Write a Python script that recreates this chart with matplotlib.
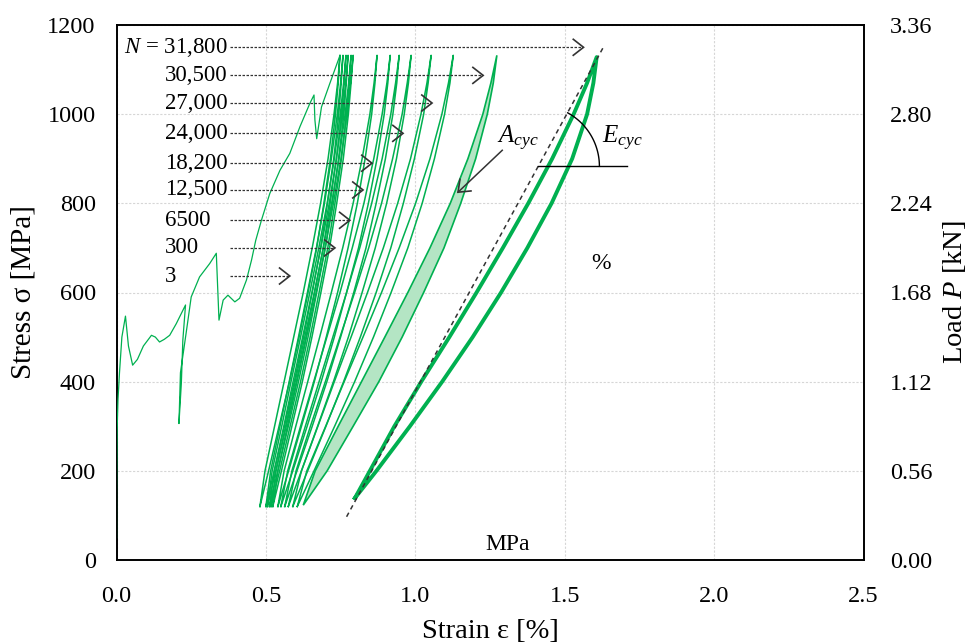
import numpy as np
import matplotlib
matplotlib.use('Agg')
import matplotlib.pyplot as plt

plt.rcParams['font.family'] = ['Liberation Serif', 'DejaVu Serif']
plt.rcParams['mathtext.fontset'] = 'custom'
plt.rcParams['mathtext.rm'] = 'Liberation Serif'
plt.rcParams['mathtext.it'] = 'Liberation Serif:italic'

GREEN = '#00b050'
FILL = '#b4e5c4'

# ---------------- data ----------------
# first (monotonic) loading curve
init_strain = [0.000, 0.000, 0.002, 0.005, 0.010, 0.018, 0.030, 0.040, 0.054, 0.070,
               0.090, 0.117, 0.130, 0.144, 0.160, 0.178, 0.200, 0.231, 0.222, 0.217,
               0.209, 0.214, 0.236, 0.250, 0.278, 0.312, 0.334, 0.343, 0.357, 0.373,
               0.396, 0.412, 0.435, 0.452, 0.466, 0.485, 0.513, 0.547, 0.580, 0.614,
               0.647, 0.661, 0.664, 0.670, 0.686, 0.714, 0.748]
init_stress = [50, 150, 290, 360, 420, 500, 547, 480, 437, 450,
               480, 504, 500, 489, 495, 504, 530, 572, 493, 396,
               306, 420, 523, 590, 635, 665, 688, 538, 583, 594,
               579, 587, 628, 673, 717, 762, 822, 874, 912, 972,
               1024, 1043, 987, 945, 1016, 1069, 1132]

# thin hysteresis loops (strain of both branches at given stress levels)
loop_stress = [120, 200, 300, 400, 500, 600, 700, 800, 900, 1000, 1070, 1132]
loops_left = [
    [0.480, 0.497, 0.529, 0.561, 0.593, 0.625, 0.655, 0.683, 0.708, 0.728, 0.740, 0.748],
    [0.500, 0.516, 0.547, 0.578, 0.609, 0.639, 0.669, 0.696, 0.719, 0.739, 0.750, 0.758],
    [0.505, 0.521, 0.553, 0.584, 0.616, 0.647, 0.677, 0.705, 0.729, 0.749, 0.760, 0.768],
    [0.512, 0.528, 0.560, 0.591, 0.623, 0.654, 0.684, 0.712, 0.736, 0.756, 0.767, 0.775],
    [0.517, 0.534, 0.566, 0.598, 0.630, 0.662, 0.692, 0.720, 0.745, 0.765, 0.777, 0.785],
    [0.523, 0.540, 0.572, 0.604, 0.636, 0.668, 0.698, 0.726, 0.751, 0.771, 0.783, 0.792],
    [0.540, 0.561, 0.600, 0.640, 0.680, 0.719, 0.757, 0.792, 0.822, 0.848, 0.862, 0.872],
    [0.550, 0.573, 0.616, 0.660, 0.704, 0.748, 0.789, 0.828, 0.861, 0.889, 0.905, 0.916],
    [0.563, 0.587, 0.632, 0.678, 0.724, 0.770, 0.814, 0.854, 0.889, 0.918, 0.934, 0.946],
    [0.575, 0.601, 0.649, 0.699, 0.748, 0.797, 0.844, 0.887, 0.924, 0.956, 0.973, 0.986],
    [0.590, 0.619, 0.674, 0.729, 0.785, 0.840, 0.893, 0.941, 0.984, 1.019, 1.039, 1.053],
    [0.605, 0.637, 0.700, 0.762, 0.825, 0.887, 0.946, 1.001, 1.049, 1.089, 1.111, 1.127],
]
loops_right = [
    [0.480, 0.509, 0.544, 0.579, 0.611, 0.641, 0.670, 0.694, 0.716, 0.733, 0.742, 0.748],
    [0.500, 0.528, 0.562, 0.595, 0.626, 0.655, 0.683, 0.706, 0.727, 0.744, 0.752, 0.758],
    [0.505, 0.533, 0.568, 0.602, 0.634, 0.663, 0.692, 0.715, 0.736, 0.754, 0.762, 0.768],
    [0.512, 0.540, 0.575, 0.609, 0.641, 0.670, 0.699, 0.722, 0.743, 0.761, 0.769, 0.775],
    [0.517, 0.546, 0.581, 0.616, 0.648, 0.678, 0.707, 0.731, 0.753, 0.770, 0.779, 0.785],
    [0.523, 0.552, 0.587, 0.622, 0.654, 0.684, 0.713, 0.737, 0.759, 0.776, 0.785, 0.792],
    [0.540, 0.576, 0.619, 0.662, 0.702, 0.740, 0.775, 0.806, 0.832, 0.854, 0.865, 0.872],
    [0.550, 0.590, 0.638, 0.685, 0.729, 0.770, 0.810, 0.843, 0.872, 0.896, 0.908, 0.916],
    [0.563, 0.604, 0.655, 0.704, 0.750, 0.794, 0.835, 0.869, 0.900, 0.925, 0.938, 0.946],
    [0.575, 0.619, 0.673, 0.726, 0.776, 0.822, 0.866, 0.904, 0.937, 0.963, 0.977, 0.986],
    [0.590, 0.640, 0.701, 0.760, 0.816, 0.869, 0.918, 0.960, 0.997, 1.028, 1.043, 1.053],
    [0.605, 0.661, 0.730, 0.797, 0.860, 0.919, 0.975, 1.023, 1.064, 1.098, 1.116, 1.127],
]

# shaded loop (A_cyc)
shaded_stress = [123, 200, 300, 400, 500, 600, 700, 800, 900, 1000, 1070, 1132]
shaded_left = [0.625, 0.665, 0.742, 0.820, 0.898, 0.975, 1.049, 1.117, 1.176, 1.226, 1.253, 1.273]
shaded_right = [0.625, 0.705, 0.792, 0.878, 0.956, 1.028, 1.096, 1.152, 1.202, 1.241, 1.261, 1.273]

# last loop N = 31,800
last_stress = [139, 200, 300, 400, 500, 600, 700, 800, 900, 1000, 1070, 1128]
last_left = [0.798, 0.848, 0.930, 1.020, 1.114, 1.205, 1.293, 1.378, 1.458, 1.530, 1.575, 1.607]
last_right = [0.798, 0.870, 0.982, 1.090, 1.192, 1.287, 1.375, 1.456, 1.525, 1.575, 1.596, 1.607]

# cycle labels
cycle_labels = ['31,800', '30,500', '27,000', '24,000', '18,200', '12,500', '6500', '300', '3']
label_stress = [1150, 1087, 1025, 957, 890, 830, 762, 700, 637]
arrow_tip = [1.563, 1.227, 1.056, 0.959, 0.855, 0.825, 0.781, 0.731, 0.580]
arrow_start = 0.379

# A_cyc pointer
acyc_from = (1.291, 919)
acyc_to = (1.143, 825)

# E_cyc secant line
ecyc_strain = [0.77, 1.63]
ecyc_stress = [97, 1151]

x_ticks = [0.0, 0.5, 1.0, 1.5, 2.0, 2.5]
y_ticks = [0, 200, 400, 600, 800, 1000, 1200]
p_ticks = [0.00, 0.56, 1.12, 1.68, 2.24, 2.80, 3.36]

# ---------------- figure ----------------
fig = plt.figure(figsize=(9.72, 6.44), dpi=100)
ax = fig.add_axes([116.5 / 972, 84 / 644, 747 / 972, 535 / 644])
ax.set_xlim(0, 2.5)
ax.set_ylim(0, 1200)
ax.set_xticks(x_ticks)
ax.set_xticklabels([f'{v:.1f}' for v in x_ticks])
ax.set_yticks(y_ticks)
ax.grid(True, color='#d6d6d6', linestyle=(0, (2, 1.5)), linewidth=0.8)
ax.set_axisbelow(True)
for s in ax.spines.values():
    s.set_linewidth(1.4)
    s.set_color('black')
ax.tick_params(axis='both', length=0, labelsize=17.5)
ax.tick_params(axis='y', pad=15)
ax.tick_params(axis='x', pad=19)

ax.set_xlabel('Strain ε [%]', fontsize=20.5, labelpad=8)
ax.set_ylabel('Stress σ [MPa]', fontsize=21, labelpad=8)

# curves
ax.plot(init_strain, init_stress, color=GREEN, lw=0.9, solid_joinstyle='round', zorder=3)
for L, R in zip(loops_left, loops_right):
    ax.plot(L + R[::-1], loop_stress + loop_stress[::-1], color=GREEN, lw=1.1,
            solid_joinstyle='round', zorder=3)
ax.fill(shaded_left + shaded_right[::-1], shaded_stress + shaded_stress[::-1],
        facecolor=FILL, edgecolor=GREEN, lw=1.2, zorder=3)
ax.plot(last_left + last_right[::-1], last_stress + last_stress[::-1], color=GREEN,
        lw=2.8, solid_joinstyle='round', zorder=3)

# secant line
ax.plot(ecyc_strain, ecyc_stress, color='#333333', lw=1.1, linestyle=(0, (3, 2.5)), zorder=4)

fig.canvas.draw()
T = ax.transData
TI = T.inverted()
ARROW_C = '#333333'


def chevron(start, tip, length=13, half_angle=38):
    """open arrow head at tip, pointing from start to tip (built in pixel space)"""
    s = T.transform(start)
    p = T.transform(tip)
    d = (p - s) / np.hypot(*(p - s))
    pts = []
    for sgn in (1, -1):
        a = np.deg2rad(sgn * half_angle)
        rot = np.array([[np.cos(a), -np.sin(a)], [np.sin(a), np.cos(a)]])
        pts.append(p - length * rot @ d)
    arm = TI.transform(np.array([pts[0], p, pts[1]]))
    ax.plot(arm[:, 0], arm[:, 1], color=ARROW_C, lw=1.2, solid_joinstyle='miter', zorder=6)


# cycle labels and arrows
for i, (lab, ys, tip) in enumerate(zip(cycle_labels, label_stress, arrow_tip)):
    if i == 0:
        ax.text(0.372, ys, r'$N$ = ' + lab, ha='right', va='center', fontsize=16.5)
    elif i < 6:
        ax.text(0.372, ys, lab, ha='right', va='center', fontsize=16.5)
    else:
        ax.text(0.161, ys, lab, ha='left', va='center', fontsize=16.5)
    ax.plot([arrow_start, tip - 0.002], [ys, ys], color=ARROW_C, lw=0.9,
            linestyle=(0, (2, 1.2)), zorder=5)
    chevron((arrow_start, ys), (tip, ys))

# A_cyc
ax.text(1.272, 935, r'$A_{cyc}$', ha='left', va='baseline', fontsize=18)
ax.plot([acyc_from[0], acyc_to[0]], [acyc_from[1], acyc_to[1]], color=ARROW_C, lw=1.1, zorder=5)
chevron(acyc_from, acyc_to)

# E_cyc angle
ax.text(1.625, 935, r'$E_{cyc}$', ha='left', va='baseline', fontsize=18)
cx, cy = 1.412, 883
ax.plot([1.41, 1.71], [cy, cy], color='black', lw=1.0, zorder=4)
c_px = T.transform((cx, cy))
p0 = T.transform((ecyc_strain[0], ecyc_stress[0]))
p1 = T.transform((ecyc_strain[1], ecyc_stress[1]))
ang = np.arctan2(p1[1] - p0[1], p1[0] - p0[0])
r_px = 61
t = np.linspace(0, ang, 60)
arc_px = np.column_stack([c_px[0] + r_px * np.cos(t), c_px[1] + r_px * np.sin(t)])
arc_data = TI.transform(arc_px)
ax.plot(arc_data[:, 0], arc_data[:, 1], color='black', lw=1.0, zorder=4)

# stray unit labels
ax.text(1.62, 666, '%', ha='center', va='center', fontsize=17)
ax.text(1.31, 34, 'MPa', ha='center', va='center', fontsize=17)

# right axis
ax2 = ax.twinx()
ax2.set_ylim(0, 3.36)
ax2.set_yticks(p_ticks)
ax2.set_yticklabels([f'{v:.2f}' for v in p_ticks])
ax2.tick_params(axis='y', length=0, labelsize=17.5, pad=19)
ax2.set_ylabel(r'Load $P$ [kN]', fontsize=20.5, labelpad=6)
for s in ax2.spines.values():
    s.set_visible(False)

fig.savefig('out.png', dpi=100)
